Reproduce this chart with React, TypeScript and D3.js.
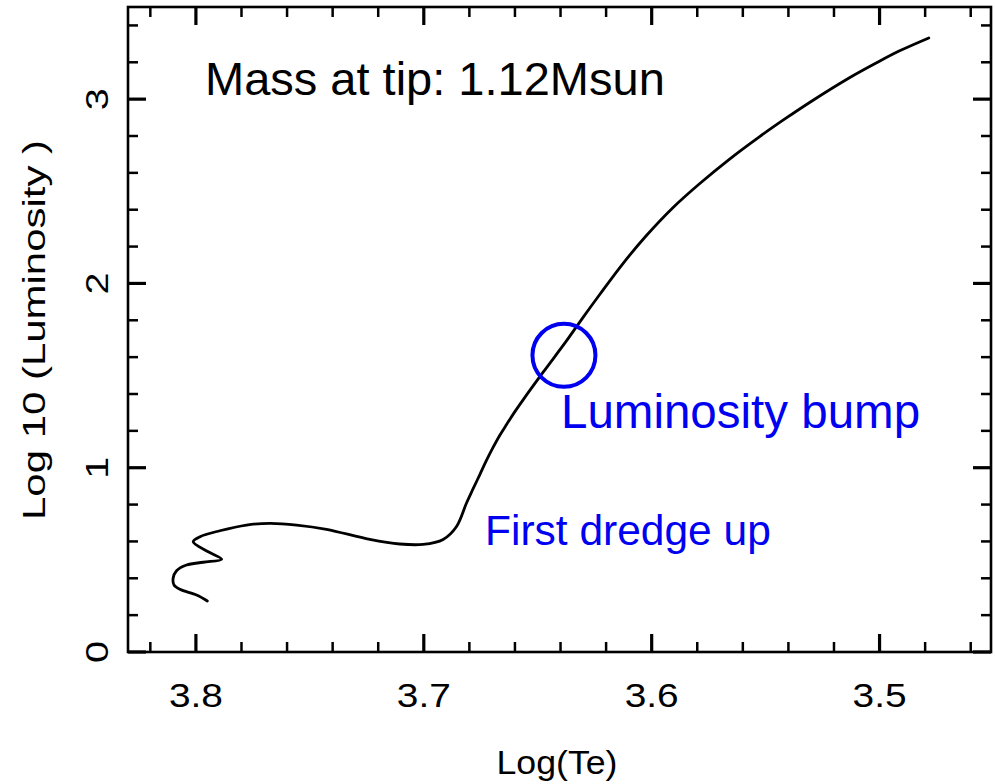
import React from "react";
import * as d3 from "d3";

// Evolutionary track: log Te, log L
const logTe = [3.7950, 3.7997, 3.8070, 3.8096, 3.8100, 3.8085, 3.8041, 3.7968, 3.7887, 3.7946,
  3.8012, 3.7982, 3.7895, 3.7778, 3.7675, 3.7558, 3.7427, 3.7237, 3.7105, 3.7003,
  3.6915, 3.6857, 3.6813, 3.6785, 3.6754, 3.6724, 3.6696, 3.6667, 3.6637, 3.6601,
  3.6565, 3.6477, 3.6374, 3.6301, 3.6228, 3.6126, 3.6023, 3.5907, 3.5790, 3.5658,
  3.5526, 3.5409, 3.5307, 3.5132, 3.5015, 3.4912, 3.4784];
const logL = [0.277, 0.309, 0.340, 0.364, 0.400, 0.441, 0.472, 0.487, 0.503, 0.544,
  0.598, 0.626, 0.658, 0.689, 0.698, 0.689, 0.666, 0.611, 0.586, 0.584,
  0.611, 0.680, 0.807, 0.882, 0.963, 1.042, 1.110, 1.175, 1.234, 1.303,
  1.367, 1.517, 1.688, 1.816, 1.940, 2.108, 2.260, 2.411, 2.541, 2.675,
  2.797, 2.898, 2.982, 3.116, 3.196, 3.262, 3.332];

const xMajorTicks = [3.8, 3.7, 3.6, 3.5];
const xTickLabels = ["3.8", "3.7", "3.6", "3.5"];
const yMajorTicks = [0, 1, 2, 3];
const yTickLabels = ["0", "1", "2", "3"];

const bump = { te: 3.6385, l: 1.61 };
const titleText = "Mass at tip: 1.12Msun";
const bumpText = "Luminosity bump";
const dredgeText = "First dredge up";
const xLabel = "Log(Te)";
const yLabel = "Log 10 (Luminosity )";

const W = 995, H = 784;
const L = 128, R = 991, T = 7, B = 652;

export default function App() {
  const x = d3.scaleLinear().domain([3.8298, 3.4511]).range([L, R]);
  const y = d3.scaleLinear().domain([0, 3.5]).range([B, T]);

  const pts: [number, number][] = logTe.map((t, i) => [t, logL[i]]);
  const line = d3.line<[number, number]>()
    .x(d => x(d[0]))
    .y(d => y(d[1]))
    .curve(d3.curveCatmullRom.alpha(0.5));

  const xMinor = d3.range(3.82, 3.449, -0.02).filter(v => !xMajorTicks.some(m => Math.abs(m - v) < 1e-6));
  const yMinor = d3.range(0.2, 3.5, 0.2).filter(v => !yMajorTicks.some(m => Math.abs(m - v) < 1e-6));

  const axisFont = "'Liberation Sans', Arial, sans-serif";
  const tickSW = 2.5;

  return (
    <svg width={W} height={H} style={{ position: "absolute", left: 0, top: 0, background: "#fff" }}>
      <rect x={0} y={0} width={W} height={H} fill="#fff" />
      {xMinor.map((v, i) => (
        <g key={"xm" + i} stroke="#000" strokeWidth={tickSW}>
          <line x1={x(v)} x2={x(v)} y1={B} y2={B - 10} />
          <line x1={x(v)} x2={x(v)} y1={T} y2={T + 10} />
        </g>
      ))}
      {xMajorTicks.map((v, i) => (
        <g key={"xM" + i} stroke="#000" strokeWidth={3.2}>
          <line x1={x(v)} x2={x(v)} y1={B} y2={B - 18} />
          <line x1={x(v)} x2={x(v)} y1={T} y2={T + 18} />
        </g>
      ))}
      {yMinor.map((v, i) => (
        <g key={"ym" + i} stroke="#000" strokeWidth={tickSW}>
          <line x1={L} x2={L + 10} y1={y(v)} y2={y(v)} />
          <line x1={R} x2={R - 10} y1={y(v)} y2={y(v)} />
        </g>
      ))}
      {yMajorTicks.map((v, i) => (
        <g key={"yM" + i} stroke="#000" strokeWidth={3.2}>
          <line x1={L} x2={L + 18} y1={y(v)} y2={y(v)} />
          <line x1={R} x2={R - 18} y1={y(v)} y2={y(v)} />
        </g>
      ))}
      <rect x={L} y={T} width={R - L} height={B - T} fill="none" stroke="#000" strokeWidth={2.6} />

      {xMajorTicks.map((v, i) => (
        <text key={"xl" + i} x={x(v)} y={707} textAnchor="middle" fontFamily={axisFont}
          fontSize={34} textLength={54} lengthAdjust="spacingAndGlyphs" fill="#000">
          {xTickLabels[i]}
        </text>
      ))}
      {yMajorTicks.map((v, i) => (
        <text key={"yl" + i} transform={`translate(108,${y(v)}) rotate(-90)`} textAnchor="middle"
          fontFamily={axisFont} fontSize={32} textLength={22} lengthAdjust="spacingAndGlyphs" fill="#000">
          {yTickLabels[i]}
        </text>
      ))}

      <text x={557} y={774} textAnchor="middle" fontFamily={axisFont} fontSize={34}
        textLength={121} lengthAdjust="spacingAndGlyphs" fill="#000">{xLabel}</text>
      <text transform="translate(45,330) rotate(-90)" textAnchor="middle" fontFamily={axisFont}
        fontSize={32} textLength={380} lengthAdjust="spacingAndGlyphs" fill="#000">{yLabel}</text>

      <path d={line(pts) ?? ""} fill="none" stroke="#000" strokeWidth={2.8} strokeLinejoin="round" strokeLinecap="round" />

      <circle cx={x(bump.te)} cy={y(bump.l)} r={31.5} fill="none" stroke="#0000f0" strokeWidth={4} />
      <text x={205} y={95} fontFamily={axisFont} fontSize={47} fill="#000">{titleText}</text>
      <text x={561} y={428} fontFamily={axisFont} fontSize={47.5} fill="#0000f0">{bumpText}</text>
      <text x={485} y={545} fontFamily={axisFont} fontSize={42.5} fill="#0000f0">{dredgeText}</text>
    </svg>
  );
}
